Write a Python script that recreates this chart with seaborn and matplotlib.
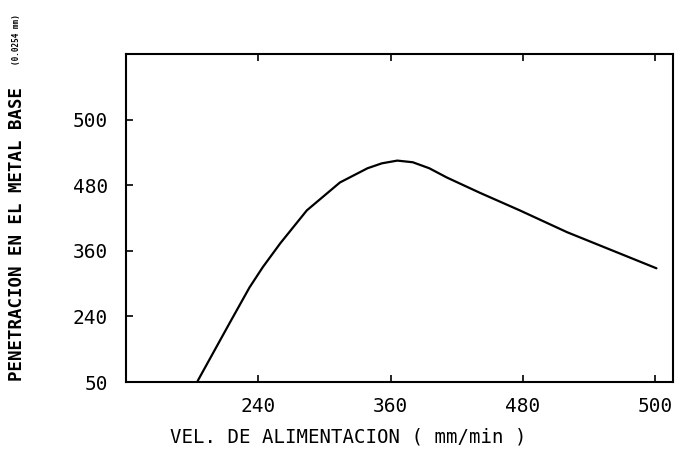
import matplotlib
matplotlib.use("Agg")
import matplotlib.pyplot as plt
import seaborn as sns
import pandas as pd

# Curve (x in the axis' linear scale, y likewise)
vel = [185, 214, 232, 244, 260, 284, 314, 339, 352, 366, 380, 395, 411, 441, 477, 520, 601]
pen = [122, 228, 293, 330, 374, 434, 485, 511, 520, 525, 522, 511, 494, 466, 434, 394, 328]

x_ticks = [240, 360, 480, 600]
x_labels = ["240", "360", "480", "500"]
y_ticks = [120, 240, 360, 480, 600]
y_labels = ["50", "240", "360", "480", "500"]

sns.set_theme(style="white")
plt.rcParams["font.family"] = ["DejaVu Sans Mono", "DejaVu Sans"]

fig = plt.figure(figsize=(6.79, 4.58), dpi=100)
ax = fig.add_axes([126/679, 1-382/458, (673-126)/679, (382-54)/458])

df = pd.DataFrame({"vel": vel, "pen": pen})
sns.lineplot(data=df, x="vel", y="pen", sort=False, color="black", lw=1.6, ax=ax)

ax.set_xlim(120, 616)
ax.set_ylim(120, 720)
ax.set_xticks(x_ticks)
ax.set_xticklabels(x_labels)
ax.set_yticks(y_ticks)
ax.set_yticklabels(y_labels)
ax.tick_params(axis="both", direction="in", length=5, width=1.2, color="black",
               labelsize=14, labelcolor="black")
ax.tick_params(axis="x", pad=11, top=True, bottom=True)
ax.tick_params(axis="y", pad=13, left=True, right=False)
for s in ax.spines.values():
    s.set_color("black")
    s.set_linewidth(1.5)
ax.set_xlabel("")
ax.set_ylabel("")

fig.text(348/679, 1-437/458, "VEL. DE ALIMENTACION ( mm/min )",
         ha="center", va="center", fontsize=13.7, color="black")
fig.text(17/679, 1-234/458, "PENETRACION EN EL METAL BASE",
         rotation=90, ha="center", va="center", fontsize=12.5,
         fontweight="bold", color="black")
fig.text(17/679, 1-40/458, "(0.0254 mm)", rotation=90, ha="center",
         va="center", fontsize=5.5, fontweight="bold", color="black")

fig.savefig("out.png", dpi=100, facecolor="white")
